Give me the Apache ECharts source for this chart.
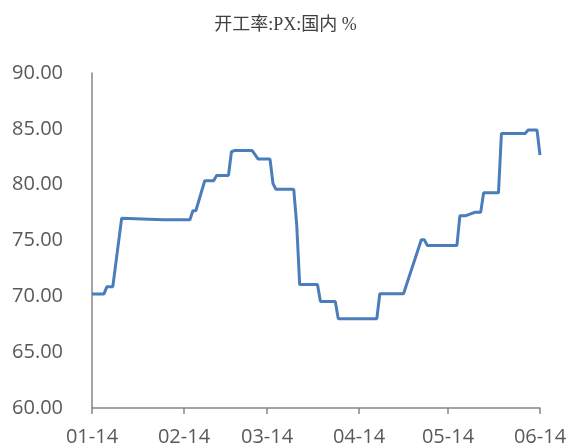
<!DOCTYPE html>
<html>
<head>
<meta charset="utf-8">
<script src="https://cdn.jsdelivr.net/npm/echarts@6/dist/echarts.min.js"></script>
<style>
  html, body { margin: 0; padding: 0; background: #fff; }
  #chart { width: 571px; height: 447px; }
</style>
</head>
<body>
<div id="chart"></div>
<script>
// breakpoints (date, rate %)
const dates = [
  '2021-01-14', '2021-01-18', '2021-01-19', '2021-01-21', '2021-01-24', '2021-02-07',
  '2021-02-16', '2021-02-17', '2021-02-18', '2021-02-21', '2021-02-24', '2021-02-25',
  '2021-03-01', '2021-03-02', '2021-03-03', '2021-03-09', '2021-03-11', '2021-03-15',
  '2021-03-16', '2021-03-17', '2021-03-23', '2021-03-24', '2021-03-25', '2021-03-31',
  '2021-04-01', '2021-04-06', '2021-04-07', '2021-04-20', '2021-04-21', '2021-04-29',
  '2021-05-05', '2021-05-06', '2021-05-07', '2021-05-17', '2021-05-18', '2021-05-20',
  '2021-05-23', '2021-05-25', '2021-05-26', '2021-05-31', '2021-06-01', '2021-06-09',
  '2021-06-10', '2021-06-13', '2021-06-14'
]
const values = [
  70.2, 70.2, 70.85, 70.85, 77.0, 76.86,
  76.86, 77.66, 77.66, 80.35, 80.35, 80.83,
  80.83, 82.95, 83.05, 83.05, 82.29, 82.29,
  80.1, 79.58, 79.58, 76.4, 71.05, 71.05,
  69.53, 69.53, 68.0, 68.0, 70.23, 70.23,
  75.07, 75.07, 74.56, 74.56, 77.22, 77.22,
  77.52, 77.52, 79.27, 79.27, 84.59, 84.59,
  84.89, 84.89, 82.65
]
const tickDates = ['2021-01-14', '2021-02-14', '2021-03-14', '2021-04-14', '2021-05-14', '2021-06-14']

// x runs in days counted from the first tick date
const DAY = 86400000
const t0 = Date.parse(tickDates[0] + 'T00:00:00Z')
const dayOf = (d) => Math.round((Date.parse(d + 'T00:00:00Z') - t0) / DAY)
const tickDays = tickDates.map(dayOf)
const seriesData = dates.map((d, i) => [dayOf(d), values[i]])

const dayLabel = (v) => {
  const d = new Date(t0 + v * DAY)
  return String(d.getUTCMonth() + 1).padStart(2, '0') + '-' + String(d.getUTCDate()).padStart(2, '0')
}

const fontFamily = '"Open Sans", "Liberation Sans", sans-serif'
const axisColor = '#868686'
const labelColor = '#595959'

const option = {
  animation: false,
  backgroundColor: '#fff',
  title: {
    text: '开工率:PX:国内 %',
    left: 'center',
    top: 11,
    textStyle: { fontFamily: '"Liberation Serif", "Noto Sans CJK SC", serif', fontSize: 18, fontWeight: 'normal', color: '#404040' },
  },
  grid: { left: 92, right: 31, top: 73, bottom: 39 },
  xAxis: {
    type: 'value',
    min: tickDays[0],
    max: tickDays[tickDays.length - 1],
    splitLine: { show: false },
    axisLine: { lineStyle: { color: axisColor, width: 1.5 } },
    axisTick: { show: true, length: 6, lineStyle: { color: axisColor, width: 1.5 }, customValues: tickDays },
    axisLabel: {
      customValues: tickDays,
      formatter: dayLabel,
      color: labelColor,
      fontSize: 20,
      fontFamily: fontFamily,
      margin: 19,
    },
  },
  yAxis: {
    type: 'value',
    min: 60,
    max: 90,
    interval: 5,
    splitLine: { show: false },
    axisLine: { show: true, lineStyle: { color: axisColor, width: 1.5 } },
    axisTick: { show: false },
    axisLabel: {
      formatter: (v) => v.toFixed(2),
      color: labelColor,
      fontSize: 20,
      fontFamily: fontFamily,
      margin: 29,
    },
  },
  series: [
    {
      type: 'line',
      data: seriesData,
      showSymbol: false,
      lineStyle: { color: '#4a7ebb', width: 3 },
      itemStyle: { color: '#4a7ebb' },
    },
  ],
}

const c = echarts.init(document.getElementById('chart'))
c.setOption(option)
</script>
</body>
</html>
